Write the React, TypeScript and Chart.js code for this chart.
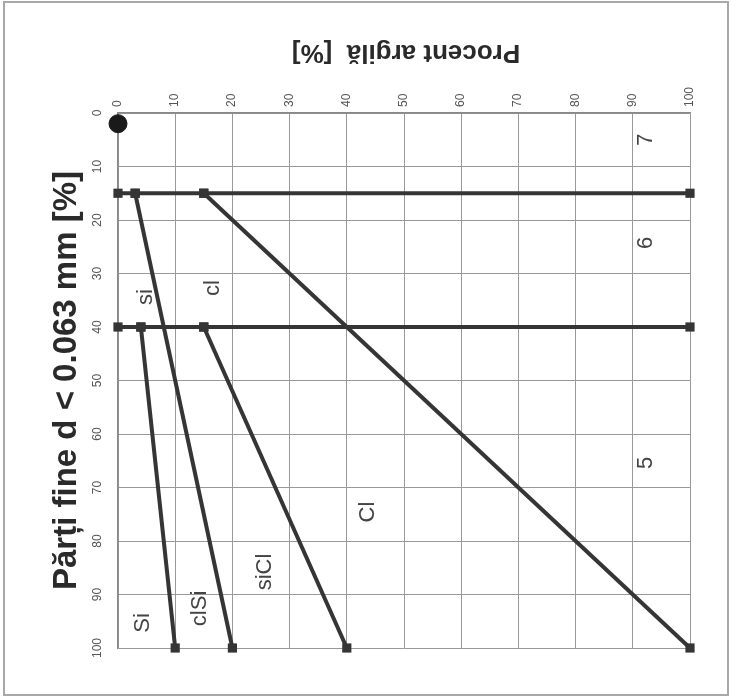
import React, { useEffect, useRef } from "react";
import { Chart, registerables } from "chart.js";

Chart.register(...registerables);

// ---- data (x = Procent argilă, y = Părți fine) ----
const xTitle = "Procent argilă  [%]";
const yTitle = "Părți fine d < 0.063 mm [%]";

const line15Clay = [0, 3, 15, 100];
const line15Fines = [15, 15, 15, 15];
const line40Clay = [0, 4, 15, 100];
const line40Fines = [40, 40, 40, 40];
const siClay = [4, 10];
const siFines = [40, 100];
const clSiClay = [3, 20];
const clSiFines = [15, 100];
const siClClay = [15, 40];
const siClFines = [40, 100];
const clClay = [15, 100];
const clFines = [15, 100];
const originClay = [0];
const originFines = [2];

const zoneNames = ["7", "6", "5", "si", "cl", "Cl", "siCl", "clSi", "Si"];
const zoneClay = [92.3, 92.3, 92.3, 4.9, 16.6, 43.7, 25.7, 14.3, 4.4];
const zoneFines = [5, 24.3, 65.4, 34.4, 32.7, 74.6, 85.8, 92.6, 95.3];

const toPts = (xs: number[], ys: number[]) => xs.map((x, i) => ({ x, y: ys[i] }));

const LINE = "#353535";
const GRID = "#999999";
const FONT = "'Liberation Sans', Arial, sans-serif";

const textPlugin = {
  id: "customText",
  beforeDraw(chart: any) {
    const ctx = chart.ctx;
    ctx.save();
    ctx.fillStyle = "#ffffff";
    ctx.fillRect(0, 0, chart.width, chart.height);
    ctx.strokeStyle = "#a8a8a8";
    ctx.lineWidth = 2;
    ctx.strokeRect(4, 2, chart.width - 7, chart.height - 6);
    ctx.restore();
  },
  afterDatasetsDraw(chart: any) {
    const ctx = chart.ctx;
    const xs = chart.scales.x;
    const ys = chart.scales.y;
    ctx.save();
    ctx.fillStyle = "#444444";
    ctx.font = `22px ${FONT}`;
    ctx.textAlign = "center";
    ctx.textBaseline = "middle";
    zoneNames.forEach((name, i) => {
      const px = xs.getPixelForValue(zoneClay[i]);
      const py = ys.getPixelForValue(zoneFines[i]);
      ctx.save();
      ctx.translate(px, py);
      ctx.rotate(-Math.PI / 2);
      ctx.fillText(name, 0, 0);
      ctx.restore();
    });
    ctx.restore();
  },
  afterDraw(chart: any) {
    const ctx = chart.ctx;
    const area = chart.chartArea;
    ctx.save();
    ctx.fillStyle = "#2a2a2a";
    ctx.font = `bold 26px ${FONT}`;
    ctx.textAlign = "center";
    ctx.textBaseline = "middle";
    ctx.translate((area.left + area.right) / 2 + 2, 52);
    ctx.rotate(Math.PI);
    ctx.fillText(xTitle, 0, 0);
    ctx.restore();
  },
};

export default function App() {
  const ref = useRef<HTMLCanvasElement | null>(null);

  useEffect(() => {
    if (!ref.current) return;
    const lineDs = (data: any[]) => ({
      data,
      showLine: true,
      borderColor: LINE,
      borderWidth: 4,
      backgroundColor: LINE,
      pointStyle: "rect",
      pointRadius: 6.5,
      pointBorderWidth: 0,
      clip: false,
    });
    const chart = new Chart(ref.current, {
      type: "scatter",
      data: {
        datasets: [
          lineDs(toPts(line15Clay, line15Fines)),
          lineDs(toPts(line40Clay, line40Fines)),
          lineDs(toPts(siClay, siFines)),
          lineDs(toPts(clSiClay, clSiFines)),
          lineDs(toPts(siClClay, siClFines)),
          lineDs(toPts(clClay, clFines)),
          {
            data: toPts(originClay, originFines),
            showLine: false,
            backgroundColor: "#1a1a1a",
            borderColor: "#1a1a1a",
            pointStyle: "circle",
            pointRadius: 9,
            clip: false,
          } as any,
        ],
      },
      options: {
        responsive: false,
        animation: false,
        devicePixelRatio: 1,
        layout: { padding: { left: 0, top: 0, right: 41, bottom: 51 } },
        plugins: {
          legend: { display: false },
          tooltip: { enabled: false },
        },
        scales: {
          x: {
            type: "linear",
            position: "top",
            min: 0,
            max: 100,
            afterFit: (s: any) => {
              s.height = 113;
            },
            ticks: {
              stepSize: 10,
              minRotation: 90,
              maxRotation: 90,
              padding: 6,
              labelOffset: 14,
              color: "#555555",
              font: { family: FONT, size: 12 },
            },
            grid: { color: GRID, lineWidth: 1, drawTicks: false },
            border: { color: "#888888", width: 1.5 },
          },
          y: {
            type: "linear",
            reverse: true,
            min: 0,
            max: 100,
            afterFit: (s: any) => {
              s.width = 118;
            },
            ticks: {
              stepSize: 10,
              minRotation: 90,
              maxRotation: 90,
              crossAlign: "center",
              padding: 10,
              color: "#555555",
              font: { family: FONT, size: 12 },
            },
            grid: { color: GRID, lineWidth: 1, drawTicks: false },
            border: { color: "#888888", width: 1.5 },
            title: {
              display: true,
              text: yTitle,
              color: "#2a2a2a",
              font: { family: FONT, size: 33, weight: "bold" },
              padding: { top: 47, bottom: 0 },
            },
          },
        },
      },
      plugins: [textPlugin],
    } as any);
    return () => chart.destroy();
  }, []);

  return (
    <div style={{ position: "absolute", left: 0, top: 0, width: 731, height: 699 }}>
      <canvas ref={ref} width={731} height={699} style={{ display: "block", width: 731, height: 699 }} />
    </div>
  );
}
